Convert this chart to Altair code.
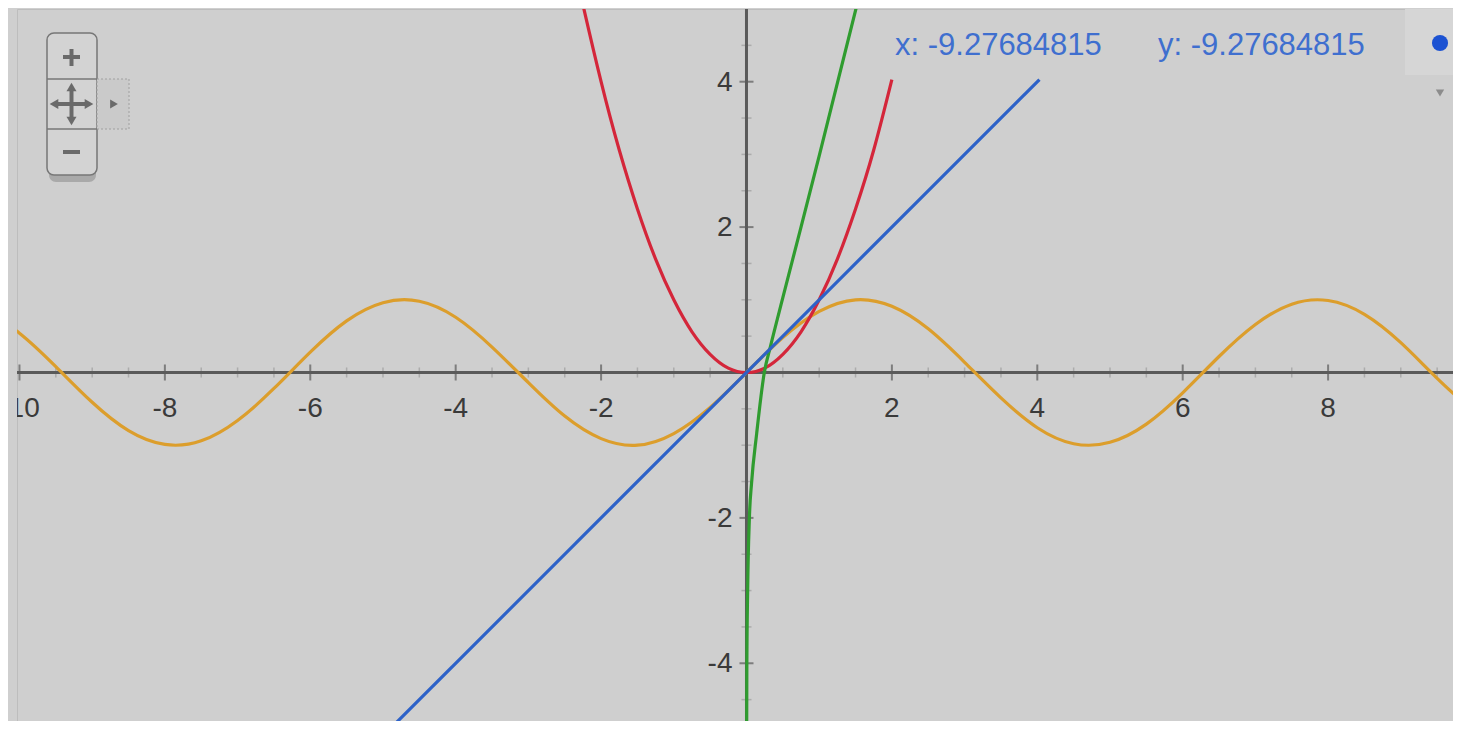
import altair as alt
import pandas as pd

# ---------------- data ----------------
# orange curve
sine_x = [-10.5, -10.0, -9.5, -9.0, -8.5, -8.0, -7.5, -7.0, -6.5, -6.0, -5.5, -5.0,
          -4.5, -4.0, -3.5, -3.0, -2.5, -2.0, -1.5, -1.0, -0.5, 0.0, 0.5, 1.0, 1.5,
          2.0, 2.5, 3.0, 3.5, 4.0, 4.5, 5.0, 5.5, 6.0, 6.5, 7.0, 7.5, 8.0, 8.5, 9.0,
          9.5, 10.0]
sine_y = [0.88, 0.54, 0.08, -0.41, -0.80, -0.99, -0.94, -0.66, -0.22, 0.28, 0.71, 0.96,
          0.98, 0.76, 0.35, -0.14, -0.60, -0.91, -1.00, -0.84, -0.48, 0.00, 0.48, 0.84, 1.00,
          0.91, 0.60, 0.14, -0.35, -0.76, -0.98, -0.96, -0.71, -0.28, 0.22, 0.66, 0.94, 0.99,
          0.80, 0.41, -0.08, -0.54]

# red curve
square_x = [-2.3, -2.25, -2.0, -1.75, -1.5, -1.25, -1.0, -0.75, -0.5, -0.25, 0.0,
            0.25, 0.5, 0.75, 1.0, 1.25, 1.5, 1.75, 2.0]
square_y = [5.29, 5.06, 4.0, 3.06, 2.25, 1.56, 1.0, 0.56, 0.25, 0.06, 0.0,
            0.06, 0.25, 0.56, 1.0, 1.56, 2.25, 3.06, 4.03]

# green curve
green_x = [0.002, 0.005, 0.016, 0.04, 0.07, 0.14, 0.245, 0.33, 0.50, 0.75, 1.00,
           1.25, 1.52]
green_y = [-5.2, -4.0, -3.0, -2.0, -1.52, -0.84, 0.0, 0.36, 1.03, 2.0, 2.98,
           3.98, 5.06]

# blue line
blue_x = [-5.5, 4.03]
blue_y = [-5.5, 4.03]

x_major = [-10, -8, -6, -4, -2, 2, 4, 6, 8, 10]
x_major_labels = ["-10", "-8", "-6", "-4", "-2", "2", "4", "6", "8", "10"]
y_major = [-4, -2, 2, 4]
y_major_labels = ["-4", "-2", "2", "4"]
x_minor = [-9.5, -9, -8.5, -7.5, -7, -6.5, -5.5, -5, -4.5, -3.5, -3, -2.5, -1.5, -1,
           -0.5, 0.5, 1, 1.5, 2.5, 3, 3.5, 4.5, 5, 5.5, 6.5, 7, 7.5, 8.5, 9, 9.5]
y_minor = [-4.5, -3.5, -3, -2.5, -1.5, -1, -0.5, 0.5, 1, 1.5, 2.5, 3, 3.5, 4.5]

readout_x = "x: -9.27684815"
readout_y = "y: -9.27684815"

# ---------------- styling ----------------
BG = "#cfcfcf"
AXIS = "#5a5a5a"
LABEL = "#3a3a3a"
FONT = "Liberation Sans"
W, H = 1436, 712

xs = alt.Scale(domain=[-10.034, 9.718], nice=False, zero=False)
ys = alt.Scale(domain=[-4.794, 5.0], nice=False, zero=False)


def X(f="x"):
    return alt.X(f"{f}:Q", scale=xs, axis=None)


def Y(f="y"):
    return alt.Y(f"{f}:Q", scale=ys, axis=None)


one = pd.DataFrame({"k": [0]})
origin = pd.DataFrame({"x": [0.0], "y": [0.0]})

# axes
x_axis = alt.Chart(origin).mark_rule(color=AXIS, strokeWidth=3).encode(y=Y())
y_axis = alt.Chart(origin).mark_rule(color=AXIS, strokeWidth=3).encode(x=X())

xminor_df = pd.DataFrame({"x": x_minor, "y": [0.0] * len(x_minor)})
yminor_df = pd.DataFrame({"x": [0.0] * len(y_minor), "y": y_minor})
xmajor_df = pd.DataFrame({"x": x_major, "y": [0.0] * len(x_major), "label": x_major_labels})
ymajor_df = pd.DataFrame({"x": [0.0] * len(y_major), "y": y_major, "label": y_major_labels})

x_minor_ticks = alt.Chart(xminor_df).mark_tick(
    orient="vertical", size=10, thickness=1.5, color="#a2a2a2", opacity=0.8
).encode(x=X(), y=Y())
y_minor_ticks = alt.Chart(yminor_df).mark_tick(
    orient="horizontal", size=10, thickness=1.5, color="#a2a2a2", opacity=0.8
).encode(x=X(), y=Y())
x_major_ticks = alt.Chart(xmajor_df).mark_tick(
    orient="vertical", size=16, thickness=2, color=AXIS
).encode(x=X(), y=Y())
y_major_ticks = alt.Chart(ymajor_df).mark_tick(
    orient="horizontal", size=14, thickness=2, color=AXIS
).encode(x=X(), y=Y())

x_labels = alt.Chart(xmajor_df).mark_text(
    font=FONT, fontSize=28, color=LABEL, align="center", baseline="alphabetic",
    dy=45, clip=True
).encode(x=X(), y=Y(), text="label:N")
y_labels = alt.Chart(ymajor_df).mark_text(
    font=FONT, fontSize=28, color=LABEL, align="right", baseline="middle",
    dx=-14, dy=1, clip=True
).encode(x=X(), y=Y(), text="label:N")

# curves
orange = alt.Chart(pd.DataFrame({"x": sine_x, "y": sine_y})).mark_line(
    color="#dc9e2c", strokeWidth=3.2, interpolate="natural", clip=True
).encode(x=X(), y=Y())
red = alt.Chart(pd.DataFrame({"x": square_x, "y": square_y})).mark_line(
    color="#d4263a", strokeWidth=3.2, interpolate="natural", clip=True
).encode(x=X(), y=Y())
green = alt.Chart(pd.DataFrame({"x": green_x, "y": green_y})).mark_line(
    color="#2f9c2f", strokeWidth=3.2, interpolate="monotone", clip=True
).encode(x=X(), y=Y())
blue = alt.Chart(pd.DataFrame({"x": blue_x, "y": blue_y})).mark_line(
    color="#2d62c8", strokeWidth=3.2, clip=True
).encode(x=X(), y=Y())

# ---------------- decorations (UI of the graph widget) ----------------
base = alt.Chart(one)
shadow = base.mark_rect(color="#8a8a8a", opacity=0.55, cornerRadius=7).encode(
    x=alt.value(32), x2=alt.value(79), y=alt.value(150), y2=alt.value(173))
box = base.mark_rect(fill="#d3d3d3", stroke="#777777", strokeWidth=1.5,
                     cornerRadius=7).encode(
    x=alt.value(30), x2=alt.value(80), y=alt.value(24), y2=alt.value(166))
side_box = base.mark_rect(fill="#cacaca", stroke="#a0a0a0", strokeWidth=1,
                          strokeDash=[2, 2]).encode(
    x=alt.value(80), x2=alt.value(112), y=alt.value(70), y2=alt.value(120))
divider1 = base.mark_rule(color="#777777", strokeWidth=1.5).encode(
    x=alt.value(30), x2=alt.value(80), y=alt.value(70))
divider2 = base.mark_rule(color="#777777", strokeWidth=1.5).encode(
    x=alt.value(30), x2=alt.value(80), y=alt.value(120))
plus_h = base.mark_rule(color="#6a6a6a", strokeWidth=4).encode(
    x=alt.value(46), x2=alt.value(63), y=alt.value(48))
plus_v = base.mark_rule(color="#6a6a6a", strokeWidth=4).encode(
    x=alt.value(54.5), y=alt.value(40), y2=alt.value(57))
minus_h = base.mark_rule(color="#6a6a6a", strokeWidth=4).encode(
    x=alt.value(46), x2=alt.value(63), y=alt.value(143))
cross_h = base.mark_rule(color="#6a6a6a", strokeWidth=4).encode(
    x=alt.value(38), x2=alt.value(71), y=alt.value(95))
cross_v = base.mark_rule(color="#6a6a6a", strokeWidth=4).encode(
    x=alt.value(54.5), y=alt.value(79), y2=alt.value(111))
arrows = alt.Chart(pd.DataFrame({
    "px": [37, 72, 54.5, 54.5],
    "py": [95, 95, 78, 112],
    "shape": ["triangle-left", "triangle-right", "triangle-up", "triangle-down"],
})).mark_point(filled=True, color="#6a6a6a", opacity=1, size=100).encode(
    x=alt.X("px:Q", scale=None, axis=None),
    y=alt.Y("py:Q", scale=None, axis=None),
    shape=alt.Shape("shape:N", scale=None, legend=None),
)
side_arrow = base.mark_point(filled=True, color="#6a6a6a", opacity=1, size=80,
                             shape="triangle-right").encode(
    x=alt.value(97), y=alt.value(95))

read_box = base.mark_rect(color="#d6d6d6").encode(
    x=alt.value(1388), x2=alt.value(1440), y=alt.value(0), y2=alt.value(66))
read_x = base.mark_text(font=FONT, fontSize=31, color="#3f6fcf", align="left",
                        baseline="alphabetic", text=readout_x).encode(
    x=alt.value(878), y=alt.value(46))
read_y = base.mark_text(font=FONT, fontSize=31, color="#3f6fcf", align="left",
                        baseline="alphabetic", text=readout_y).encode(
    x=alt.value(1141), y=alt.value(46))
dot = base.mark_circle(color="#1c52d2", opacity=1, size=260).encode(
    x=alt.value(1423), y=alt.value(34))
down_tri = base.mark_point(filled=True, color="#8c8c8c", opacity=1, size=70,
                           shape="triangle-down").encode(x=alt.value(1423), y=alt.value(84))

chart = alt.layer(
    x_minor_ticks, y_minor_ticks, x_axis, y_axis, x_major_ticks, y_major_ticks,
    x_labels, y_labels,
    orange, red, green, blue,
    shadow, box, side_box, divider1, divider2, plus_h, plus_v, minus_h,
    cross_h, cross_v, arrows, side_arrow,
    read_box, read_x, read_y, dot, down_tri,
).properties(
    width=W, height=H,
    padding={"left": 9, "top": 1, "right": 0, "bottom": 0},
    autosize=alt.AutoSizeParams(type="none"),
    background=BG,
).configure_view(fill=BG, stroke="#bdbdbd", strokeWidth=1)

chart.save("out.html", embed_options={"renderer": "svg", "actions": False})
